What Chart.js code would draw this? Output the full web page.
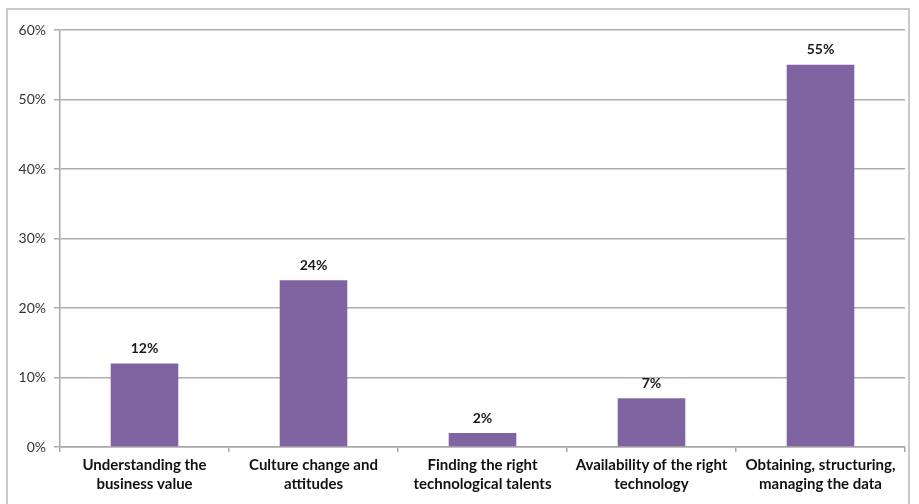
<!DOCTYPE html>
<html lang="en">
<head>
    <meta charset="UTF-8">
    <title>Big data challenges</title>
    <script src="https://cdn.jsdelivr.net/npm/chart.js"></script>
    <style>
        html, body { margin: 0; padding: 0; background: #fff; }
        .wrap { position: relative; width: 919px; height: 504px; }
        .frame {
            position: absolute; left: 6px; top: 8px; width: 904px; height: 500px;
            border: 2px solid #c9c9c9; box-sizing: border-box;
        }
        canvas { position: absolute; left: 0; top: 0; }
    </style>
</head>
<body>
    <div class="wrap">
        <div class="frame"></div>
        <canvas id="barChart" width="919" height="504"></canvas>
    </div>

    <script>
        const categories = [
            ['Understanding the', 'business value'],
            ['Culture change and', 'attitudes'],
            ['Finding the right', 'technological talents'],
            ['Availability of the right', 'technology'],
            ['Obtaining, structuring,', 'managing the data']
        ];
        const shares = [12, 24, 2, 7, 55];
        const yTicks = [0, 10, 20, 30, 40, 50, 60];

        // value labels above each bar
        const barLabels = {
            id: 'barLabels',
            afterDatasetsDraw(chart) {
                const ctx = chart.ctx;
                const meta = chart.getDatasetMeta(0);
                ctx.save();
                ctx.font = 'bold 14px Lato, sans-serif';
                ctx.fillStyle = '#1a1a1a';
                ctx.textAlign = 'center';
                ctx.textBaseline = 'bottom';
                meta.data.forEach((bar, i) => {
                    ctx.fillText(shares[i] + '%', bar.x, bar.y - 8);
                });
                ctx.restore();
            }
        };

        new Chart(document.getElementById('barChart'), {
            type: 'bar',
            data: {
                labels: categories,
                datasets: [{
                    data: shares,
                    backgroundColor: '#8064a2',
                    borderWidth: 0,
                    categoryPercentage: 1,
                    barPercentage: 0.4
                }]
            },
            options: {
                responsive: false,
                animation: false,
                layout: { padding: { top: 30, right: 14, left: 0, bottom: 0 } },
                plugins: {
                    legend: { display: false },
                    tooltip: { enabled: false }
                },
                scales: {
                    x: {
                        afterFit: (scale) => { scale.height = 57; },
                        grid: {
                            offset: true,
                            drawOnChartArea: false,
                            drawTicks: true,
                            tickLength: 5,
                            color: '#a8a8a8',
                            lineWidth: 1.5
                        },
                        border: { color: '#a8a8a8', width: 1.5 },
                        ticks: {
                            color: '#111',
                            padding: 3,
                            maxRotation: 0,
                            autoSkip: false,
                            font: { family: 'Lato, sans-serif', size: 15, weight: 'bold', lineHeight: 1.3 }
                        }
                    },
                    y: {
                        min: 0,
                        max: 60,
                        afterFit: (scale) => { scale.width = 60; },
                        afterBuildTicks: (scale) => {
                            scale.ticks = yTicks.map(v => ({ value: v }));
                        },
                        grid: {
                            color: '#adadad',
                            lineWidth: 1.5,
                            tickLength: 6
                        },
                        border: { color: '#a8a8a8', width: 1.5 },
                        ticks: {
                            color: '#333',
                            padding: 8,
                            font: { family: 'Lato, sans-serif', size: 14 },
                            callback: (v) => v + '%'
                        }
                    }
                }
            },
            plugins: [barLabels]
        });
    </script>
</body>
</html>
